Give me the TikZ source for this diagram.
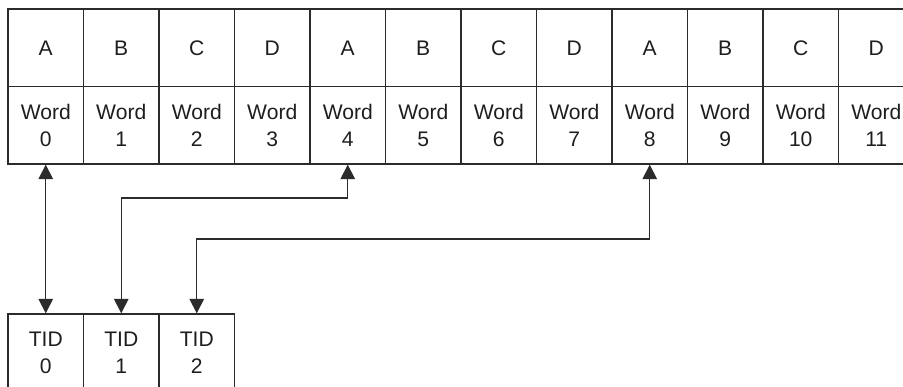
\documentclass[tikz,border=0pt]{standalone}
\usepackage{fontspec}
\setmainfont{Liberation Sans}
\usetikzlibrary{arrows.meta}
\definecolor{lineink}{HTML}{2B2B2B}
\definecolor{textink}{HTML}{1E1E1E}

\begin{document}
\begin{tikzpicture}[
    cell/.style={draw=lineink, line width=0.75pt, minimum width=1.51cm,
                 minimum height=1.55cm, inner sep=0pt, align=center,
                 text=textink, font=\fontsize{12}{15.2}\selectfont},
    link/.style={draw=lineink, line width=0.7pt,
                 {Triangle[length=2.9mm,width=2.9mm]}-{Triangle[length=2.9mm,width=2.9mm]}}
  ]
  \useasboundingbox (0,0) rectangle (18.06,-7.74);
  \clip (0,0) rectangle (18.06,-7.74);

  % Bank row and word row
  \foreach \i/\l in {0/A,1/B,2/C,3/D,4/A,5/B,6/C,7/D,8/A,9/B,10/C,11/D} {
    \node[cell] (bank\i) at ({0.915+\i*1.51}, -0.955) {\l};
    \node[cell] (word\i) at ({0.915+\i*1.51}, -2.505) {Word\\\i};
  }

  % Thread IDs
  \foreach \i in {0,1,2} {
    \node[cell] (tid\i) at ({0.915+\i*1.51}, -7.055) {TID\\\i};
  }

  % Connectors
  \coordinate (bendA) at (0,-3.96);
  \coordinate (bendB) at (0,-4.78);
  \draw[link] (word0.south) -- (tid0.north);
  \draw[link] (word4.south) -- (word4.south |- bendA) -| (tid1.north);
  \draw[link] (word8.south) -- (word8.south |- bendB) -| (tid2.north);
\end{tikzpicture}
\end{document}
